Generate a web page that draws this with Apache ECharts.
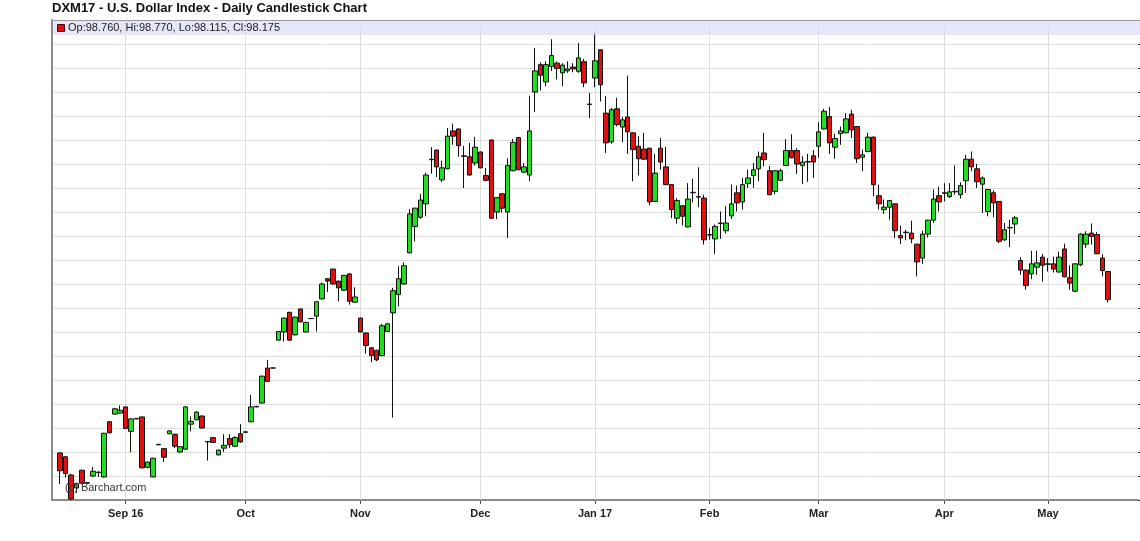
<!DOCTYPE html>
<html>
<head>
<meta charset="utf-8">
<script src="https://cdn.jsdelivr.net/npm/echarts@6/dist/echarts.min.js"></script>
<style>
html,body{margin:0;padding:0;background:#fff;}
#chart{width:1140px;height:541px;}
</style>
</head>
<body>
<div id="chart"></div>
<script>
const chartTitle = 'DXM17 - U.S. Dollar Index - Daily Candlestick Chart';
const tickLabels = ['Sep 16', 'Oct', 'Nov', 'Dec', 'Jan 17', 'Feb', 'Mar', 'Apr', 'May'];
const tickIndex = [12, 34, 55, 77, 98, 119, 139, 162, 181];

const opens = [
94.98,94.90,94.52,94.25,94.62,94.35,94.50,94.57,94.48,95.63,95.79,95.81,95.94,95.43,95.69,95.73,94.68,94.48,95.15,95.07,
95.38,95.37,95.00,95.06,95.58,95.67,95.75,95.21,95.30,94.94,95.08,95.28,95.12,95.38,95.41,
95.63,95.94,96.02,96.75,96.75,97.33,97.50,97.91,97.44,97.98,97.50,97.78,97.83,98.19,98.61,98.81,98.56,98.37,98.71,98.12,
97.79,97.48,97.17,97.12,97.01,97.51,97.90,98.28,98.50,
99.15,99.70,99.89,100.17,101.09,101.29,100.67,100.90,101.69,101.73,101.16,101.15,101.02,101.25,100.76,101.50,100.00,100.38,
100.00,100.86,101.55,100.83,100.77,102.50,103.07,102.71,103.03,103.10,102.90,102.94,103.02,102.93,
103.13,102.24,102.79,103.38,102.06,101.46,102.15,101.77,101.98,101.65,101.37,101.31,101.33,100.22,101.33,100.94,100.57,
99.87,100.13,99.69,100.40,100.31,100.29,99.52,99.44,99.76,99.61,99.92,100.40,100.21,100.59,100.76,100.90,101.23,
100.86,100.43,100.66,100.97,101.28,101.28,100.97,101.04,101.17,101.37,101.73,101.99,101.35,101.63,101.65,102.04,101.78,
101.14,101.26,101.56,100.34,100.05,100.10,100.17,99.51,99.57,99.56,99.33,99.04,99.54,99.83,100.34,100.39,
100.32,100.42,100.36,100.65,101.10,100.90,100.58,100.01,100.40,100.22,99.42,99.67,99.75,98.99,98.79,98.71,98.85,99.06,
98.91,98.92,98.75,99.23,98.63,98.35,98.90,99.33,99.56,99.53,99.04,98.76
];
const highs = [
95.00,94.92,94.55,94.36,94.63,94.36,94.69,94.60,95.40,95.64,95.91,95.97,95.95,95.70,95.70,95.74,94.80,94.88,95.16,95.08,
95.45,95.38,95.12,95.95,95.74,95.85,95.76,95.23,95.31,95.05,95.37,95.37,95.33,95.58,95.43,
96.19,95.96,96.59,96.92,96.76,97.52,97.80,97.92,97.82,97.99,97.71,97.79,98.14,98.53,98.62,98.82,98.57,98.69,98.73,98.43,
97.80,97.49,97.18,97.13,97.67,97.69,98.42,98.87,98.95,
100.06,100.09,100.38,100.82,101.35,101.30,101.07,101.75,101.84,101.74,101.38,101.44,101.56,101.26,100.92,101.51,100.31,100.39,
101.12,101.52,101.56,101.02,102.42,103.42,103.12,103.14,103.60,103.14,103.10,103.14,103.10,103.52,
103.19,102.48,103.74,103.39,102.42,102.17,102.38,101.98,102.84,101.66,101.58,101.65,101.34,101.21,101.54,101.36,100.58,
100.29,100.14,100.60,100.69,100.93,100.36,99.67,99.74,100.01,100.12,100.57,100.55,100.71,100.88,101.02,101.26,101.65,
100.96,100.87,100.90,101.52,101.62,101.33,101.16,101.21,101.29,101.87,102.15,102.19,101.63,101.78,102.06,102.13,101.79,
101.30,101.65,101.57,100.57,100.26,100.24,100.18,99.72,99.63,99.82,99.34,99.61,99.84,100.47,100.53,100.60,
100.60,100.97,100.62,101.19,101.26,101.00,100.74,100.48,100.45,100.23,99.77,99.84,99.92,99.06,98.80,99.19,99.19,99.13,
99.04,99.07,99.17,99.34,98.89,98.93,99.56,99.60,99.76,99.58,99.12,98.77
];
const lows = [
94.33,94.47,94.00,94.15,94.34,94.34,94.48,94.48,94.47,95.39,95.78,95.80,95.48,95.00,95.68,94.66,94.66,94.47,95.14,94.79,
95.37,95.08,94.99,95.05,95.43,95.66,95.49,94.82,95.19,94.93,95.00,95.08,95.10,95.19,95.40,
95.62,95.93,96.01,96.46,96.74,97.32,97.30,97.32,97.43,97.70,97.49,97.77,97.51,98.18,98.33,98.49,98.14,98.36,98.07,98.11,
97.49,97.05,96.87,96.89,96.99,97.50,95.72,98.03,98.49,
99.14,99.39,99.86,99.91,100.80,100.73,100.62,100.89,101.40,101.15,100.50,100.76,100.97,100.91,100.64,99.86,99.85,99.99,
99.46,100.85,100.87,100.81,100.64,102.08,102.53,102.62,102.94,102.76,102.62,102.90,102.91,102.90,
102.60,101.96,102.60,102.30,101.23,101.42,101.78,101.45,101.21,100.64,100.76,101.09,100.14,100.21,100.88,100.56,99.87,
99.76,99.72,99.68,100.20,100.10,99.32,99.42,99.13,99.44,99.55,99.85,100.01,100.05,100.50,100.50,100.64,100.95,
100.35,100.37,100.65,100.96,101.12,100.79,100.58,100.63,100.71,101.13,101.72,101.21,101.11,101.40,101.64,101.54,101.02,
100.85,101.25,100.33,100.05,99.96,99.84,99.46,99.33,99.41,99.35,98.66,98.92,99.47,99.77,100.01,100.22,
100.29,100.36,100.28,100.40,100.85,100.50,99.98,99.91,99.89,99.35,99.40,99.27,99.54,98.69,98.38,98.60,98.69,98.55,
98.76,98.74,98.74,98.64,98.38,98.33,98.87,99.25,99.32,99.12,98.66,98.115
];
const closes = [
94.61,94.55,94.02,94.34,94.35,94.36,94.60,94.58,95.39,95.40,95.90,95.87,95.49,95.69,95.70,94.67,94.79,94.87,95.16,94.89,
95.44,95.12,95.11,95.94,95.64,95.83,95.50,95.22,95.20,95.04,95.14,95.15,95.30,95.21,95.42,
95.94,95.95,96.58,96.47,96.75,97.51,97.79,97.33,97.81,97.71,97.70,97.78,98.13,98.50,98.56,98.50,98.42,98.68,98.14,98.23,
97.50,97.22,97.01,96.92,97.63,97.67,98.36,98.61,98.88,
99.96,100.08,100.25,100.77,101.10,100.94,100.92,101.58,101.58,101.38,101.17,100.77,101.35,100.92,100.66,99.87,100.30,100.08,
100.97,101.45,100.88,100.94,101.69,102.94,102.85,103.07,103.26,102.99,103.06,102.98,102.98,103.21,
102.69,102.25,103.15,102.65,101.44,102.13,101.82,101.92,101.67,101.30,101.11,101.10,100.21,100.81,101.04,100.57,100.05,
100.24,99.91,100.27,100.41,100.32,99.42,99.53,99.70,99.77,99.77,100.17,100.19,100.57,100.71,100.88,101.15,101.09,
100.36,100.86,100.86,101.28,101.13,101.00,101.04,101.05,101.04,101.67,102.10,101.44,101.53,101.69,101.94,101.71,101.11,
101.19,101.56,100.57,100.17,100.10,100.24,99.61,99.46,99.58,99.44,98.96,99.54,99.83,100.27,100.21,100.40,
100.42,100.43,100.55,101.10,100.94,100.63,100.71,100.47,100.19,99.39,99.63,99.68,99.88,98.79,98.47,98.92,98.94,98.89,
98.92,98.81,99.06,98.65,98.52,98.92,99.54,99.54,99.49,99.13,98.78,98.175
];

const lead = 1, trail = 5;
const n = opens.length;
const categories = [];
for (let i = 0; i < lead + n + trail; i++) categories.push('c' + i);
const candleData = [['-','-','-','-']];
for (let i = 0; i < n; i++) candleData.push([opens[i], closes[i], lows[i], highs[i]]);

function isTick(idx) { return tickIndex.indexOf(idx - lead) >= 0; }

const last = n - 1;
const legendText = 'Op:' + opens[last].toFixed(3) + ', Hi:' + highs[last].toFixed(3) +
  ', Lo:' + lows[last].toFixed(3) + ', Cl:' + closes[last].toFixed(3);

const chart = echarts.init(document.getElementById('chart'), null, {renderer: 'canvas'});
chart.setOption({
  animation: false,
  backgroundColor: '#ffffff',
  textStyle: {fontFamily: 'Liberation Sans, Arial, sans-serif'},
  title: {
    text: chartTitle, left: 52, top: 2, padding: 0,
    textStyle: {fontSize: 13, fontWeight: 'bold', color: '#111', fontFamily: 'Liberation Sans, Arial, sans-serif'}
  },
  grid: {left: 52, right: 2, top: 20, bottom: 41, containLabel: false},
  xAxis: {
    type: 'category', data: categories, boundaryGap: true,
    axisLine: {show: true, lineStyle: {color: '#8c8c8c', width: 2}},
    axisTick: {show: true, alignWithLabel: true, interval: function (i) { return isTick(i); }, length: 4, lineStyle: {color: '#555'}},
    axisLabel: {
      show: true, interval: function (i) { return isTick(i); }, margin: 8,
      fontSize: 11, fontWeight: 'bold', color: '#222',
      formatter: function (v, i) { const k = tickIndex.indexOf(i - lead); return k >= 0 ? tickLabels[k] : ''; }
    },
    splitLine: {show: false}
  },
  yAxis: [{
    type: 'value', position: 'right', min: 94, max: 104, interval: 0.5, scale: true,
    axisLine: {show: false},
    axisTick: {show: true, inside: false, length: 5, lineStyle: {color: '#333'}},
    axisLabel: {show: false},
    splitLine: {show: true, lineStyle: {color: '#dcdcdc', width: 1}}
  }, {
    type: 'value', position: 'left', min: 94, max: 104,
    axisLine: {show: true, lineStyle: {color: '#8c8c8c', width: 2}},
    axisTick: {show: false}, axisLabel: {show: false}, splitLine: {show: false}
  }],
  graphic: [
    {type: 'rect', shape: {x: 53, y: 20, width: 1087, height: 15}, style: {fill: 'rgba(220,220,248,0.7)'}, z: 10, silent: true},
    {type: 'line', shape: {x1: 52, y1: 20.5, x2: 1140, y2: 20.5}, style: {stroke: '#9a9a9a', lineWidth: 1}, z: 11, silent: true},
    {type: 'rect', shape: {x: 57.5, y: 24.5, width: 7, height: 7}, style: {fill: '#dd1111', stroke: '#550000', lineWidth: 1}, z: 12, silent: true},
    {type: 'text', left: 68, top: 22, style: {text: legendText, fontSize: 11, fill: '#222', fontFamily: 'Liberation Sans, Arial, sans-serif'}, z: 12, silent: true},
    {type: 'text', left: 65, top: 482, style: {text: '(c) Barchart.com', fontSize: 11, fill: '#333', fontFamily: 'Liberation Sans, Arial, sans-serif'}, z: 12, silent: true}
  ],
  series: [{
    type: 'candlestick',
    data: candleData,
    barWidth: 5,
    z: 3,
    itemStyle: {
      color: '#22dd22', color0: '#dd1111',
      borderColor: '#111', borderColor0: '#111', borderWidth: 1
    },
    markLine: {
      silent: true, symbol: ['none', 'none'], z: 1,
      label: {show: false},
      lineStyle: {color: '#dcdcdc', width: 1, type: 'solid'},
      emphasis: {disabled: true},
      data: tickIndex.map(function (t) { return {xAxis: t + lead}; })
    }
  }]
});
</script>
</body>
</html>
